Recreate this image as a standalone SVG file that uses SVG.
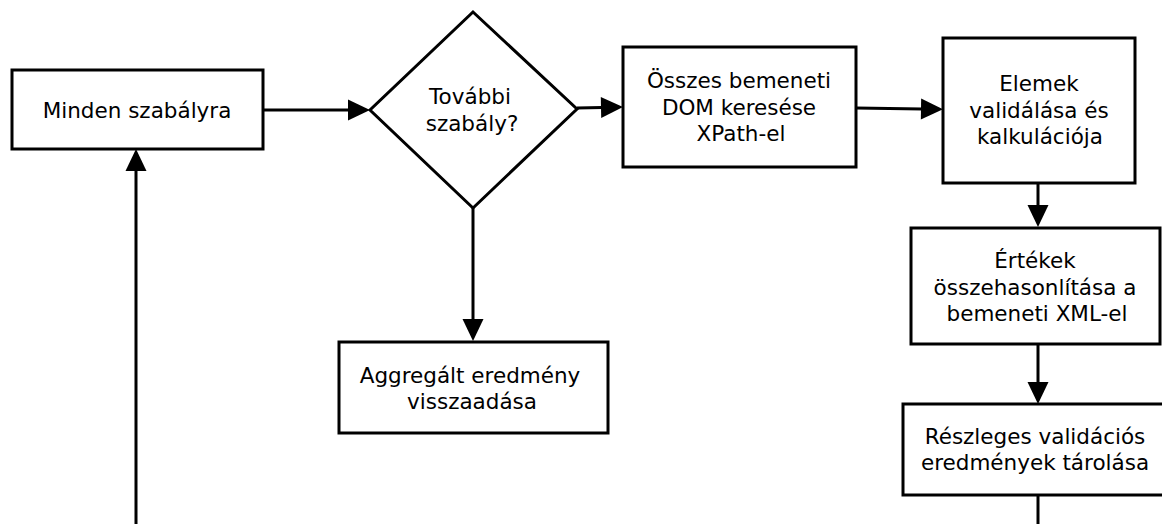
<svg xmlns="http://www.w3.org/2000/svg" width="1162" height="524" viewBox="0 0 1162 524">
  <style>
    .box { fill: #ffffff; stroke: #000000; stroke-width: 3; }
    .edge { fill: none; stroke: #000000; stroke-width: 3; }
    .lbl { font-family: "DejaVu Sans", "Liberation Sans", sans-serif; font-size: 21.5px; fill: #000000; text-anchor: middle; }
  </style>
  <defs>
    <marker id="arrow" markerUnits="userSpaceOnUse" markerWidth="23" markerHeight="22" refX="1" refY="11" orient="auto" overflow="visible">
      <path d="M0,0.5 L22,11 L0,21.5 z" fill="#000000"/>
    </marker>
  </defs>
  <rect width="1162" height="524" fill="#ffffff"/>

  <g id="connectors">
    <line class="edge" x1="263" y1="110" x2="349" y2="110" marker-end="url(#arrow)"/>
    <line class="edge" x1="577" y1="108" x2="602" y2="107.5" marker-end="url(#arrow)"/>
    <line class="edge" x1="856" y1="108" x2="922" y2="109" marker-end="url(#arrow)"/>
    <line class="edge" x1="1038" y1="183" x2="1038" y2="206" marker-end="url(#arrow)"/>
    <line class="edge" x1="1038" y1="344" x2="1038" y2="383" marker-end="url(#arrow)"/>
    <line class="edge" x1="1038" y1="495" x2="1038" y2="526"/>
    <line class="edge" x1="473" y1="208" x2="473" y2="320" marker-end="url(#arrow)"/>
    <line class="edge" x1="136" y1="526" x2="136" y2="170" marker-end="url(#arrow)"/>
  </g>

  <g id="minden-szabalyra">
    <rect class="box" x="12" y="70" width="251" height="79"/>
    <text class="lbl" x="137" y="118">Minden szabályra</text>
  </g>

  <g id="tovabbi-szabaly">
    <polygon class="box" points="473,12 577,109 473,208 370,110"/>
    <text class="lbl" x="470" y="104">További</text>
    <text class="lbl" x="472" y="130.5">szabály?</text>
  </g>

  <g id="dom-kereses">
    <rect class="box" x="623" y="47" width="233" height="120"/>
    <text class="lbl" x="739" y="88">Összes bemeneti</text>
    <text class="lbl" x="739" y="114.5">DOM keresése</text>
    <text class="lbl" x="741" y="141">XPath-el</text>
  </g>

  <g id="elemek-validalasa">
    <rect class="box" x="943" y="38" width="192" height="145"/>
    <text class="lbl" x="1039" y="91">Elemek</text>
    <text class="lbl" x="1039" y="117.5">validálása és</text>
    <text class="lbl" x="1040" y="144">kalkulációja</text>
  </g>

  <g id="ertekek-osszehasonlitasa">
    <rect class="box" x="911" y="228" width="249" height="116"/>
    <text class="lbl" x="1035" y="268">Értékek</text>
    <text class="lbl" x="1035" y="294.5">összehasonlítása a</text>
    <text class="lbl" x="1037" y="321">bemeneti XML-el</text>
  </g>

  <g id="reszleges-eredmenyek">
    <rect class="box" x="903" y="404" width="262" height="91"/>
    <text class="lbl" x="1035" y="443.5">Részleges validációs</text>
    <text class="lbl" x="1035" y="470">eredmények tárolása</text>
  </g>

  <g id="aggregalt-eredmeny">
    <rect class="box" x="339" y="342" width="269" height="91"/>
    <text class="lbl" x="470" y="383">Aggregált eredmény</text>
    <text class="lbl" x="472" y="409">visszaadása</text>
  </g>
</svg>
